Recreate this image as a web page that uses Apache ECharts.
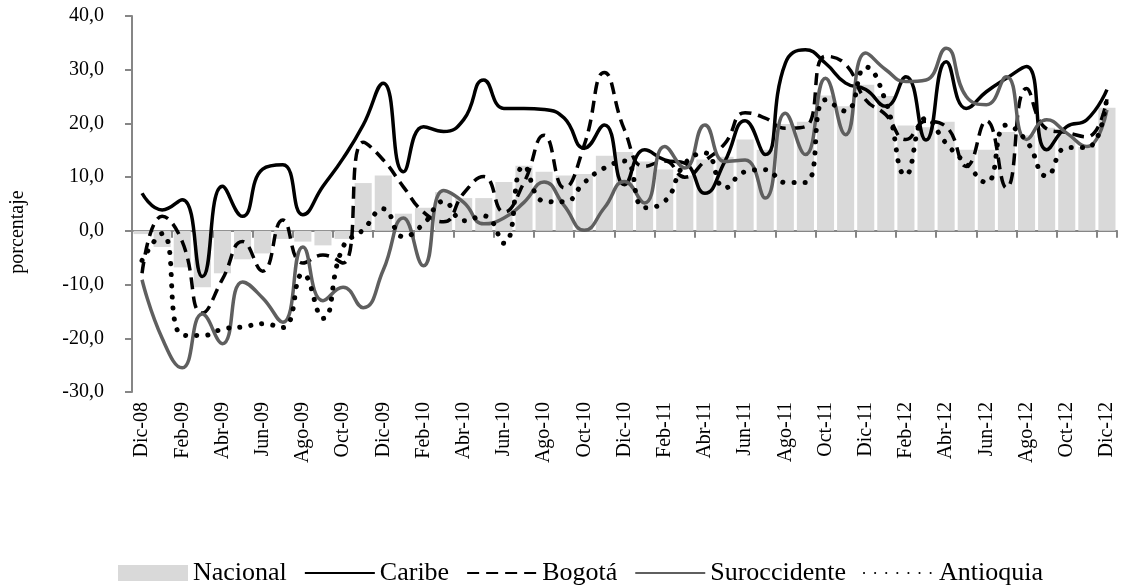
<!DOCTYPE html>
<html>
<head>
<meta charset="utf-8">
<script src="https://cdn.jsdelivr.net/npm/echarts@6/dist/echarts.min.js"></script>
<style>
  html, body { margin: 0; padding: 0; background: #fff; }
  #chart { width: 1122px; height: 585px; }
</style>
</head>
<body>
<div id="chart"></div>
<script>
// meses Dic-08 .. Dic-12
const meses = ['Dic-08', 'Ene-09', 'Feb-09', 'Mar-09', 'Abr-09', 'May-09', 'Jun-09', 'Jul-09', 'Ago-09', 'Sep-09', 'Oct-09', 'Nov-09',
  'Dic-09', 'Ene-10', 'Feb-10', 'Mar-10', 'Abr-10', 'May-10', 'Jun-10', 'Jul-10', 'Ago-10', 'Sep-10', 'Oct-10', 'Nov-10',
  'Dic-10', 'Ene-11', 'Feb-11', 'Mar-11', 'Abr-11', 'May-11', 'Jun-11', 'Jul-11', 'Ago-11', 'Sep-11', 'Oct-11', 'Nov-11',
  'Dic-11', 'Ene-12', 'Feb-12', 'Mar-12', 'Abr-12', 'May-12', 'Jun-12', 'Jul-12', 'Ago-12', 'Sep-12', 'Oct-12', 'Nov-12',
  'Dic-12']

const nacional = [-0.6, -3.0, -6.8, -10.5, -7.9, -5.3, -4.2, -1.5, -2.0, -2.7, -1.5, 8.9,
  10.3, 3.2, 4.3, 7.2, 6.1, 6.1, 9.1, 12.1, 11.0, 10.3, 10.6, 14.0,
  14.7, 12.9, 11.4, 10.3, 13.3, 13.8, 17.0, 15.1, 19.9, 20.3, 25.2, 23.2,
  27.2, 25.1, 19.6, 19.3, 20.3, 15.1, 15.1, 18.4, 17.8, 19.2, 18.0, 15.6,
  22.9]

const caribe = [7.0, 3.9, 5.8, -8.5, 8.3, 2.7, 11.5, 12.3, 3.0, 8.3, 13.5, 19.7,
  27.5, 11.0, 19.4, 18.5, 20.7, 28.1, 22.8, 22.8, 22.6, 21.0, 15.4, 19.7,
  8.6, 15.1, 13.2, 12.6, 7.0, 13.0, 20.5, 14.2, 31.2, 33.7, 31.2, 27.5,
  26.3, 23.2, 28.7, 16.9, 31.5, 22.8, 25.9, 28.4, 30.6, 15.1, 19.4, 20.7,
  26.3]

const bogota = [-7.9, 2.7, -2.0, -15.3, -9.0, -2.0, -7.5, 2.0, -6.0, -4.5, -6.0, 16.5,
  13.2, 8.2, 3.5, 1.7, 7.0, 10.1, 3.5, 9.0, 17.8, 8.0, 16.0, 29.5,
  18.8, 12.0, 13.0, 10.0, 13.0, 16.3, 22.0, 21.0, 19.1, 19.4, 32.5, 31.0,
  24.4, 21.6, 17.0, 20.4, 19.4, 12.0, 20.5, 8.0, 26.5, 19.0, 18.3, 17.5,
  24.5]

const suroccidente = [-9.1, -20.0, -25.5, -15.5, -21.0, -9.5, -12.5, -17.0, -3.0, -13.0, -10.5, -14.3,
  -7.3, 2.4, -6.5, 7.5, 5.3, 1.3, 2.4, 5.3, 9.1, 4.7, 0.1, 4.3,
  9.2, 5.2, 15.7, 11.7, 19.7, 12.9, 13.2, 6.1, 21.9, 14.2, 28.4, 17.9,
  33.1, 30.0, 27.8, 28.1, 34.0, 25.0, 23.5, 28.7, 17.0, 20.7, 18.2, 15.7,
  22.5]

const antioquia = [-5.5, -0.5, -19.4, -19.5, -18.3, -17.9, -17.3, -18.0, -8.0, -16.3, -3.0, 0.2,
  4.1, -1.1, 1.3, 5.5, 1.9, 2.8, -2.3, 12.1, 5.5, 5.4, 9.0, 11.7,
  13.0, 4.3, 5.5, 12.5, 14.5, 8.0, 11.0, 11.4, 9.0, 9.0, 24.4, 22.3,
  30.5, 24.0, 10.4, 21.0, 16.3, 12.5, 9.0, 19.7, 16.7, 10.2, 15.5, 15.5,
  25.0]

const fuente = 'Liberation Serif'

const chart = echarts.init(document.getElementById('chart'))

const lineaBase = {
  type: 'line',
  smooth: 0.5,
  showSymbol: false,
  symbol: 'none',
  z: 3
}

// sin circulo en la leyenda de las lineas
const sinSimbolo = { opacity: 0 }

chart.setOption({
  animation: false,
  textStyle: { fontFamily: fuente, color: '#000' },
  grid: { left: 132, right: 5, top: 16, bottom: 193 },
  legend: {
    top: 555,
    left: 113,
    itemWidth: 70,
    itemHeight: 16,
    itemGap: 17,
    textStyle: { fontFamily: fuente, fontSize: 26, color: '#000' },
    data: [
      { name: 'Nacional', icon: 'rect' },
      { name: 'Caribe', itemStyle: sinSimbolo },
      { name: 'Bogotá', itemStyle: sinSimbolo },
      { name: 'Suroccidente', itemStyle: sinSimbolo },
      { name: 'Antioquia', itemStyle: sinSimbolo }
    ]
  },
  xAxis: [
    {
      type: 'category',
      data: meses,
      position: 'bottom',
      axisLine: { show: false, onZero: false },
      axisTick: { show: false },
      axisLabel: {
        interval: 1,
        rotate: 90,
        margin: 10,
        fontSize: 20,
        fontFamily: fuente,
        color: '#000'
      }
    },
    {
      // linea del cero con las marcas
      type: 'category',
      data: meses,
      position: 'top',
      axisLine: { show: true, onZero: true, lineStyle: { color: '#868686', width: 2 } },
      axisTick: { show: true, interval: 1, inside: true, length: 7, lineStyle: { color: '#868686', width: 2 } },
      axisLabel: { show: false }
    }
  ],
  yAxis: {
    type: 'value',
    min: -30,
    max: 40,
    interval: 10,
    name: 'porcentaje',
    nameLocation: 'middle',
    nameRotate: 90,
    nameGap: 104,
    nameTextStyle: { fontFamily: fuente, fontSize: 20, color: '#000', padding: [0, 56, 0, 0] },
    axisLine: { show: true, lineStyle: { color: '#868686', width: 2 } },
    axisTick: { show: true, length: 7, lineStyle: { color: '#868686', width: 2 } },
    splitLine: { show: false },
    axisLabel: {
      fontSize: 20,
      fontFamily: fuente,
      color: '#000',
      margin: 28,
      formatter: v => v.toFixed(1).replace('.', ',')
    }
  },
  series: [
    {
      name: 'Nacional',
      type: 'bar',
      data: nacional,
      barCategoryGap: '15%',
      itemStyle: { color: '#d9d9d9' },
      z: 1
    },
    {
      ...lineaBase,
      name: 'Caribe',
      data: caribe,
      itemStyle: { color: '#000' },
      lineStyle: { color: '#000', width: 3.5 }
    },
    {
      ...lineaBase,
      name: 'Bogotá',
      data: bogota,
      itemStyle: { color: '#000' },
      lineStyle: { color: '#000', width: 3.5, type: [12, 7] }
    },
    {
      ...lineaBase,
      name: 'Suroccidente',
      data: suroccidente,
      itemStyle: { color: '#5f5f5f' },
      lineStyle: { color: '#5f5f5f', width: 3.5 }
    },
    {
      ...lineaBase,
      name: 'Antioquia',
      data: antioquia,
      itemStyle: { color: '#000' },
      lineStyle: { color: '#000', width: 5, type: [0.1, 11], cap: 'round' }
    }
  ]
})
</script>
</body>
</html>
